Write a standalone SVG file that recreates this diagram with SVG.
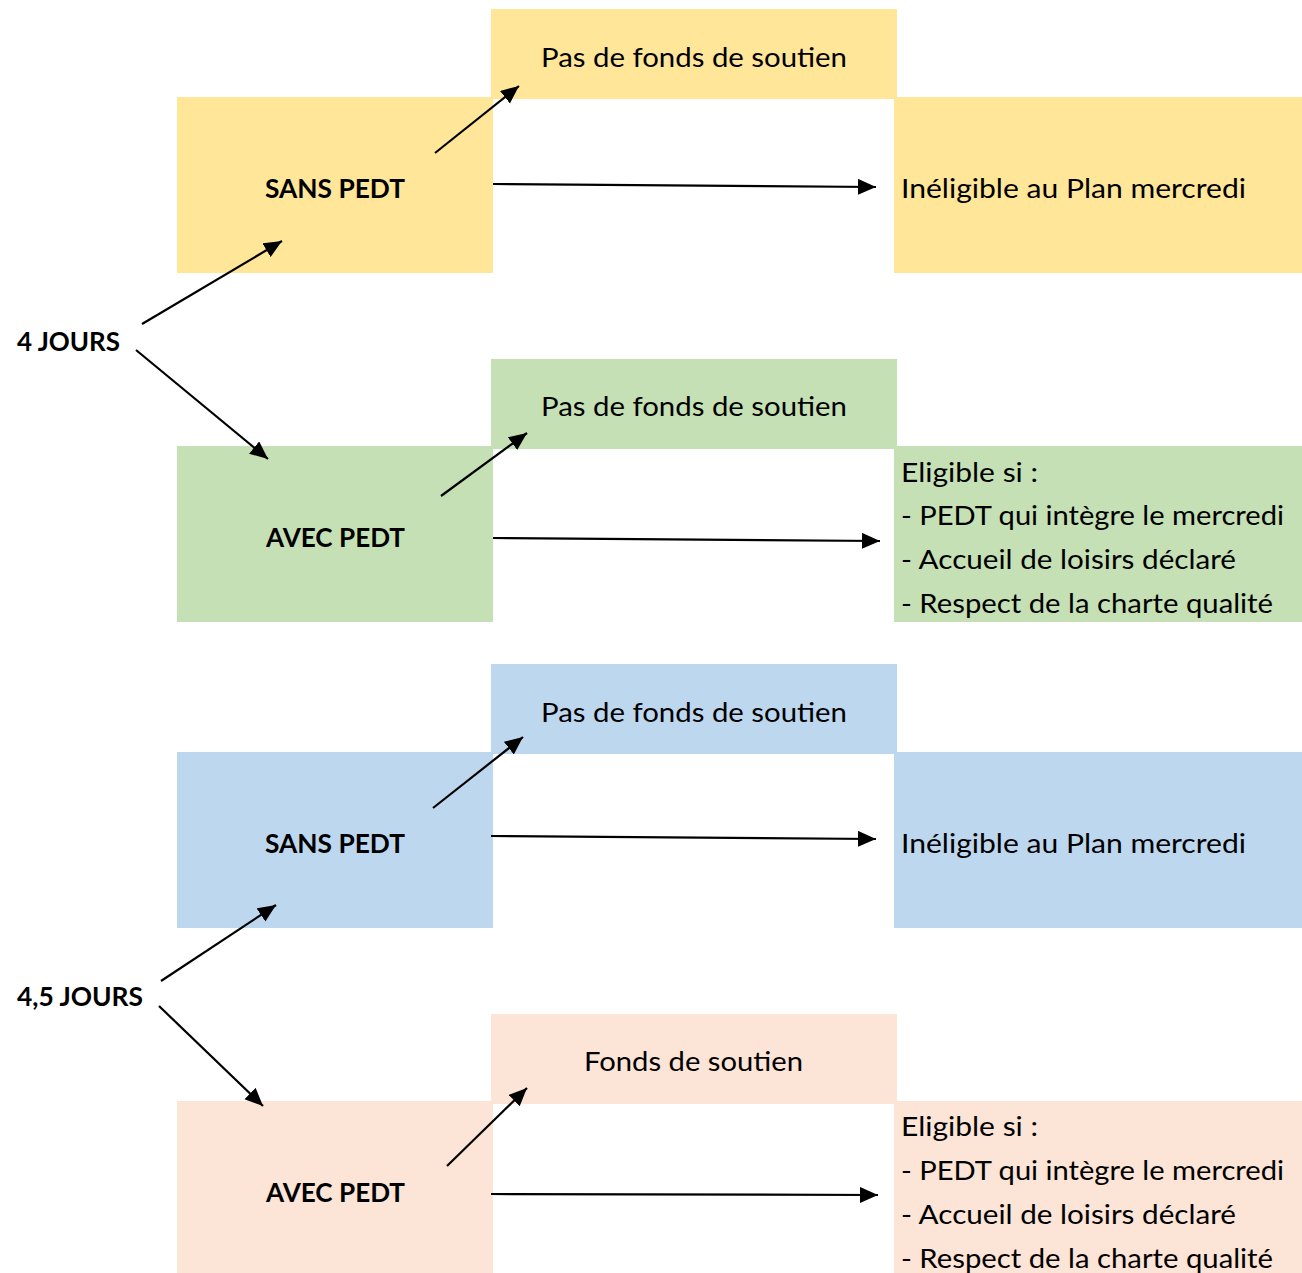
<svg xmlns="http://www.w3.org/2000/svg" width="1302" height="1273" viewBox="0 0 1302 1273">
<style>
text{font-family:Lato,"Liberation Sans",sans-serif;font-size:27.5px;fill:#000}
.b{font-weight:bold}
.y{fill:#FFE699}.g{fill:#C5E0B4}.bl{fill:#BDD7EE}.p{fill:#FCE4D6}
.c line{stroke:#000;stroke-width:2.2;marker-end:url(#ah)}
</style>
<defs>
<marker id="ah" markerUnits="userSpaceOnUse" markerWidth="20" markerHeight="18" refX="18" refY="8" orient="auto">
<path d="M0,0 L18,8 L0,16 z" fill="#000"/>
</marker>
</defs>
<rect width="1302" height="1273" fill="#fff"/>

<g id="j4"><text class="b" x="17" y="351" textLength="103" lengthAdjust="spacingAndGlyphs">4 JOURS</text></g>
<g id="j45"><text class="b" x="17" y="1006" textLength="126" lengthAdjust="spacingAndGlyphs">4,5 JOURS</text></g>

<g id="y-fonds"><rect class="y" x="491" y="9" width="406" height="90"/><text x="541" y="67" textLength="306" lengthAdjust="spacingAndGlyphs">Pas de fonds de soutien</text></g>
<g id="y-sans"><rect class="y" x="177" y="97" width="316" height="176"/><text class="b" x="265" y="198" textLength="140" lengthAdjust="spacingAndGlyphs">SANS PEDT</text></g>
<g id="y-inel"><rect class="y" x="894" y="97" width="408" height="176"/><text x="901" y="198" textLength="345" lengthAdjust="spacingAndGlyphs">Inéligible au Plan mercredi</text></g>

<g id="g-fonds"><rect class="g" x="491" y="359" width="406" height="90"/><text x="541" y="416" textLength="306" lengthAdjust="spacingAndGlyphs">Pas de fonds de soutien</text></g>
<g id="g-avec"><rect class="g" x="177" y="446" width="316" height="176"/><text class="b" x="266" y="547" textLength="139" lengthAdjust="spacingAndGlyphs">AVEC PEDT</text></g>
<g id="g-elig"><rect class="g" x="894" y="446" width="408" height="176"/>
<text x="901" y="482" textLength="137" lengthAdjust="spacingAndGlyphs">Eligible si :</text>
<text x="901" y="525" textLength="383" lengthAdjust="spacingAndGlyphs">- PEDT qui intègre le mercredi</text>
<text x="901" y="569" textLength="335" lengthAdjust="spacingAndGlyphs">- Accueil de loisirs déclaré</text>
<text x="901" y="613" textLength="372" lengthAdjust="spacingAndGlyphs">- Respect de la charte qualité</text></g>

<g id="b-fonds"><rect class="bl" x="491" y="664" width="406" height="90"/><text x="541" y="722" textLength="306" lengthAdjust="spacingAndGlyphs">Pas de fonds de soutien</text></g>
<g id="b-sans"><rect class="bl" x="177" y="752" width="316" height="176"/><text class="b" x="265" y="853" textLength="140" lengthAdjust="spacingAndGlyphs">SANS PEDT</text></g>
<g id="b-inel"><rect class="bl" x="894" y="752" width="408" height="176"/><text x="901" y="853" textLength="345" lengthAdjust="spacingAndGlyphs">Inéligible au Plan mercredi</text></g>

<g id="p-fonds"><rect class="p" x="491" y="1014" width="406" height="90"/><text x="584" y="1071" textLength="219" lengthAdjust="spacingAndGlyphs">Fonds de soutien</text></g>
<g id="p-avec"><rect class="p" x="177" y="1101" width="316" height="172"/><text class="b" x="266" y="1202" textLength="139" lengthAdjust="spacingAndGlyphs">AVEC PEDT</text></g>
<g id="p-elig"><rect class="p" x="894" y="1101" width="408" height="172"/>
<text x="901" y="1136" textLength="137" lengthAdjust="spacingAndGlyphs">Eligible si :</text>
<text x="901" y="1180" textLength="383" lengthAdjust="spacingAndGlyphs">- PEDT qui intègre le mercredi</text>
<text x="901" y="1224" textLength="335" lengthAdjust="spacingAndGlyphs">- Accueil de loisirs déclaré</text>
<text x="901" y="1268" textLength="372" lengthAdjust="spacingAndGlyphs">- Respect de la charte qualité</text></g>

<g id="connectors" class="c">
<line x1="142" y1="324" x2="282" y2="241"/>
<line x1="136" y1="350" x2="268" y2="459"/>
<line x1="435" y1="153" x2="519" y2="86"/>
<line x1="493" y1="184" x2="876" y2="187"/>
<line x1="441" y1="496" x2="527" y2="433"/>
<line x1="493" y1="538" x2="880" y2="541"/>
<line x1="433" y1="808" x2="523" y2="737"/>
<line x1="491" y1="836" x2="876" y2="839"/>
<line x1="161" y1="981" x2="276" y2="905"/>
<line x1="159" y1="1006" x2="263" y2="1106"/>
<line x1="447" y1="1166" x2="527" y2="1088"/>
<line x1="491" y1="1194" x2="878" y2="1195"/>
</g>
</svg>
